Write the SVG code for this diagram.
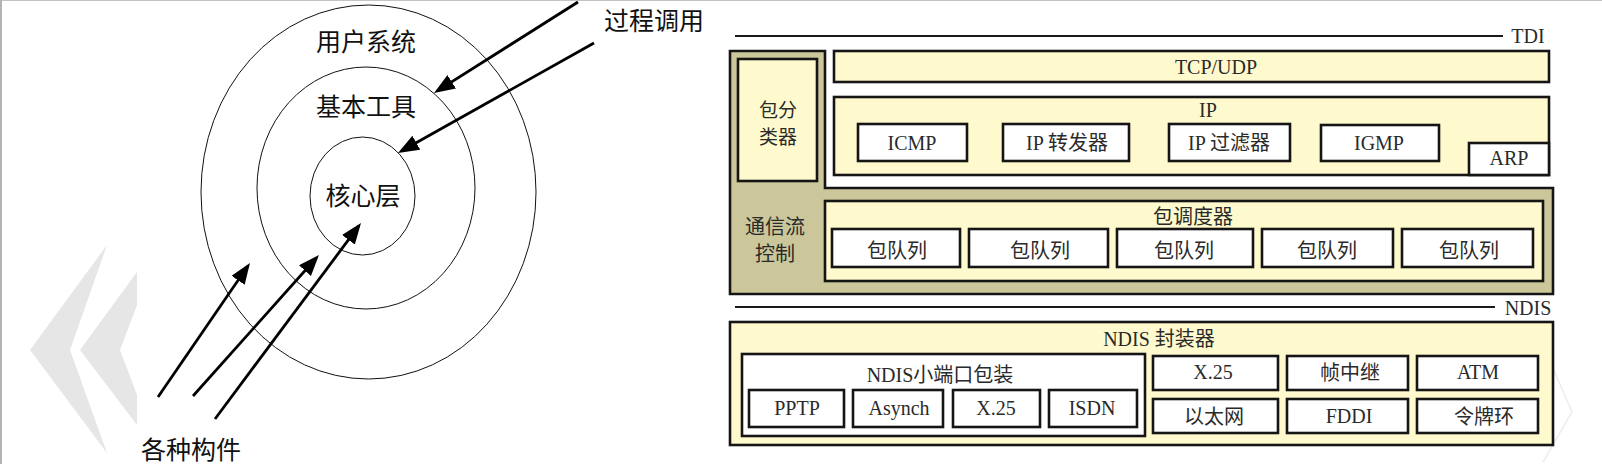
<svg xmlns="http://www.w3.org/2000/svg" width="1602" height="464" viewBox="0 0 1602 464">
<defs>
<style>
.cjk{font-family:"Noto Sans CJK SC","Noto Sans",sans-serif;fill:#111;}
.big{font-size:25px;}
.lbl{font-family:"Liberation Serif","Noto Sans CJK SC",serif;font-size:20px;fill:#2a2a2a;text-anchor:middle;}
.zh{font-family:"Noto Sans CJK SC","Liberation Sans",sans-serif;font-size:20px;fill:#2a2a2a;text-anchor:middle;}
.ring{fill:none;stroke:#111;stroke-width:1;}
.arr{fill:none;stroke:#000;stroke-width:2.8;marker-end:url(#ah);}
.box{stroke:#151515;stroke-width:2.6;}
.yel{fill:#fffacd;}
.wht{fill:#ffffff;}
.olv{fill:#cbc79a;}
.sep{stroke:#1a1a1a;stroke-width:2;}
.wm{fill:#e6e6e6;}
</style>
<marker id="ah" markerUnits="userSpaceOnUse" markerWidth="22" markerHeight="18" refX="17" refY="8" orient="auto">
<path d="M0,0 L21,8 L0,16 z" fill="#000"/>
</marker>
</defs>
<rect x="0" y="0" width="1602" height="464" fill="#ffffff"/>
<line x1="0" y1="0.5" x2="1602" y2="0.5" stroke="#c4c4c4" stroke-width="1"/>
<line x1="1" y1="0" x2="1" y2="464" stroke="#b4b4b4" stroke-width="2"/>
<g id="watermark">
<polygon class="wm" points="107,245 30,350 107,453 70,350"/>
<polygon class="wm" points="137,272 80,350 137,425 137,395 120,350 137,305"/>
<polyline points="1543,345 1572,412 1543,462" fill="none" stroke="#ededed" stroke-width="1.5"/>
</g>
<g id="layers">
<g id="user-system">
<ellipse class="ring" cx="368.5" cy="192" rx="167.5" ry="187"/>
<text class="cjk big" x="366" y="51" text-anchor="middle">用户系统</text>
</g>
<g id="basic-tools">
<ellipse class="ring" cx="366" cy="188" rx="109" ry="121"/>
<text class="cjk big" x="366" y="116" text-anchor="middle">基本工具</text>
</g>
<g id="core-layer">
<ellipse class="ring" cx="362.5" cy="196" rx="52.5" ry="59"/>
<text class="cjk big" x="363" y="205" text-anchor="middle">核心层</text>
</g>
<g id="proc-call">
<text class="cjk big" x="654" y="30" text-anchor="middle">过程调用</text>
</g>
<g id="components">
<text class="cjk big" x="191" y="459" text-anchor="middle">各种构件</text>
</g>
</g>
<g id="connectors">
<line class="arr" x1="578" y1="2" x2="437.4" y2="90.9"/>
<line class="arr" x1="594" y1="43" x2="401.5" y2="151"/>
<line class="arr" x1="158" y1="397" x2="247.7" y2="266.3"/>
<line class="arr" x1="193" y1="396" x2="316.3" y2="258"/>
<line class="arr" x1="215" y1="419" x2="358.6" y2="226.2"/>
</g>
<g id="separators">
<line class="sep" x1="735" y1="36" x2="1503" y2="36"/>
<text class="lbl" x="1528" y="43">TDI</text>
<line class="sep" x1="735" y1="307" x2="1495" y2="307"/>
<text class="lbl" x="1528" y="315">NDIS</text>
</g>
<g id="traffic-control">
<polygon class="box olv" points="730,51 825,51 825,188 1553,188 1553,294 730,294"/>
<text class="zh" x="775" y="234">通信流</text>
<text class="zh" x="775" y="261">控制</text>
</g>
<g id="packet-classifier">
<rect class="box yel" x="738" y="59" width="79" height="122"/>
<text class="zh" x="778" y="117" style="font-size:19px">包分</text>
<text class="zh" x="778" y="144" style="font-size:19px">类器</text>
</g>
<g id="tcp-udp">
<rect class="box yel" x="834" y="51" width="715" height="31"/>
<text class="lbl" x="1216" y="74">TCP/UDP</text>
</g>
<g id="ip">
<rect class="box yel" x="834" y="97" width="715" height="78"/>
<text class="lbl" x="1208" y="117">IP</text>
</g>
<g id="icmp">
<rect class="box wht" x="858" y="124" width="109" height="37"/>
<text class="lbl" x="912" y="150">ICMP</text>
</g>
<g id="ip-forwarder">
<rect class="box wht" x="1003" y="124" width="126" height="37"/>
<text class="lbl" x="1067" y="150">IP 转发器</text>
</g>
<g id="ip-filter">
<rect class="box wht" x="1169" y="124" width="121" height="37"/>
<text class="lbl" x="1229" y="150">IP 过滤器</text>
</g>
<g id="igmp">
<rect class="box wht" x="1321" y="125" width="118" height="36"/>
<text class="lbl" x="1379" y="150">IGMP</text>
</g>
<g id="arp">
<rect class="box wht" x="1469" y="143" width="80" height="32"/>
<text class="lbl" x="1509" y="165">ARP</text>
</g>
<g id="packet-scheduler">
<rect class="box yel" x="825" y="201" width="718" height="80"/>
<text class="zh" x="1193" y="224">包调度器</text>
</g>
<g id="queue-1">
<rect class="box wht" x="832" y="229" width="128" height="38"/>
<text class="zh" x="897" y="258">包队列</text>
</g>
<g id="queue-2">
<rect class="box wht" x="969" y="229" width="139" height="38"/>
<text class="zh" x="1040" y="258">包队列</text>
</g>
<g id="queue-3">
<rect class="box wht" x="1117" y="229" width="136" height="38"/>
<text class="zh" x="1184" y="258">包队列</text>
</g>
<g id="queue-4">
<rect class="box wht" x="1262" y="229" width="131" height="38"/>
<text class="zh" x="1327" y="258">包队列</text>
</g>
<g id="queue-5">
<rect class="box wht" x="1402" y="229" width="131" height="38"/>
<text class="zh" x="1469" y="258">包队列</text>
</g>
<g id="ndis-wrapper">
<rect class="box yel" x="730" y="322" width="823" height="123"/>
<text class="lbl" x="1159" y="346">NDIS 封装器</text>
</g>
<g id="ndis-miniport">
<rect class="box wht" x="742" y="354" width="403" height="82"/>
<text class="lbl" x="940" y="382">NDIS小端口包装</text>
</g>
<g id="pptp">
<rect class="box wht" x="749" y="390" width="95" height="37"/>
<text class="lbl" x="797" y="415">PPTP</text>
</g>
<g id="asynch">
<rect class="box wht" x="853" y="390" width="90" height="37"/>
<text class="lbl" x="899" y="415">Asynch</text>
</g>
<g id="x25-miniport">
<rect class="box wht" x="953" y="390" width="87" height="37"/>
<text class="lbl" x="996" y="415">X.25</text>
</g>
<g id="isdn">
<rect class="box wht" x="1049" y="390" width="88" height="37"/>
<text class="lbl" x="1092" y="415">ISDN</text>
</g>
<g id="x25">
<rect class="box wht" x="1153" y="356" width="125" height="34"/>
<text class="lbl" x="1213" y="379">X.25</text>
</g>
<g id="frame-relay">
<rect class="box wht" x="1287" y="356" width="121" height="34"/>
<text class="lbl" x="1350" y="380">帧中继</text>
</g>
<g id="atm">
<rect class="box wht" x="1417" y="356" width="121" height="34"/>
<text class="lbl" x="1478" y="379">ATM</text>
</g>
<g id="ethernet">
<rect class="box wht" x="1153" y="399" width="125" height="34"/>
<text class="lbl" x="1214" y="424">以太网</text>
</g>
<g id="fddi">
<rect class="box wht" x="1287" y="399" width="121" height="34"/>
<text class="lbl" x="1349" y="423">FDDI</text>
</g>
<g id="token-ring">
<rect class="box wht" x="1417" y="399" width="121" height="34"/>
<text class="lbl" x="1484" y="424">令牌环</text>
</g>
</svg>
